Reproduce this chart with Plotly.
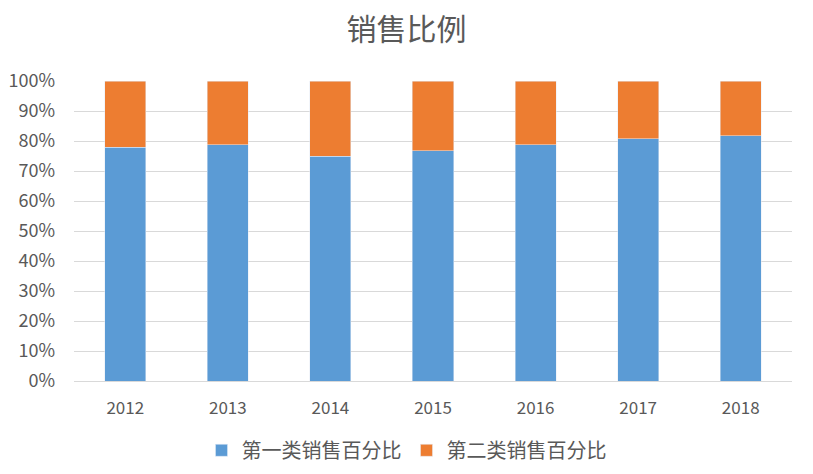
import plotly.graph_objects as go

years = ["2012", "2013", "2014", "2015", "2016", "2017", "2018"]
first_pct = [78.0, 78.7, 75.0, 76.7, 78.7, 80.7, 81.7]
second_pct = [round(100 - v, 1) for v in first_pct]
series_names = ["第一类销售百分比", "第二类销售百分比"]
tick_vals = [0, 10, 20, 30, 40, 50, 60, 70, 80, 90, 100]
tick_text = [f"{v}%" for v in tick_vals]

font_family = "Noto Sans CJK SC, Microsoft YaHei, sans-serif"
grey = "#595959"

fig = go.Figure()
fig.add_trace(go.Bar(x=years, y=first_pct, name=series_names[0], marker_color="#5B9BD5"))
fig.add_trace(go.Bar(x=years, y=second_pct, name=series_names[1], marker_color="#ED7D31"))

fig.update_layout(
    barmode="stack",
    bargap=0.6,
    width=813, height=474,
    margin=dict(l=74, r=21, t=81, b=93),
    paper_bgcolor="white", plot_bgcolor="white",
    title=dict(text="销售比例", x=0.5, xanchor="center", y=0.937, yanchor="middle",
               font=dict(family=font_family, size=30, color=grey)),
    font=dict(family=font_family, color=grey),
    showlegend=True,
    legend=dict(orientation="h", x=0.5, xanchor="center", xref="container",
                y=0.05, yanchor="middle", yref="container",
                font=dict(size=20, color=grey), traceorder="normal",
                itemwidth=30, tracegroupgap=0),
    xaxis=dict(showline=True, linecolor="#D9D9D9", tickfont=dict(size=17, color=grey),
               ticks="", showgrid=False, ticklabelstandoff=12, automargin=False),
    yaxis=dict(range=[0, 100], tickvals=tick_vals, ticktext=tick_text,
               showgrid=True, gridcolor="#D9D9D9", zeroline=False, automargin=False,
               tickfont=dict(size=18, color=grey), ticks="", ticklabelstandoff=18),
)

fig.write_html("out.html")
